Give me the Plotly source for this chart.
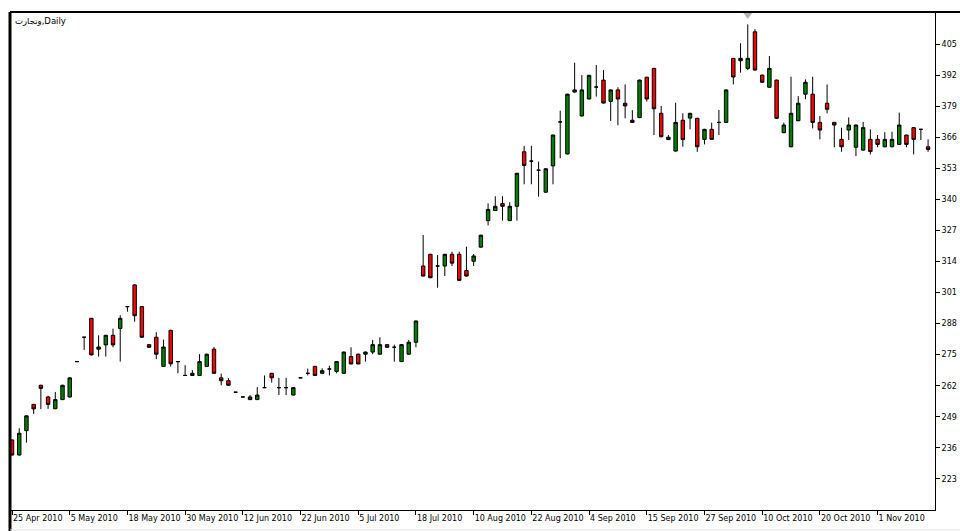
import plotly.graph_objects as go
import numpy as np

# OHLC, one entry per daily bar
opens = [239.3, 233.0, 243.2, 254.2, 262.2, 257.3, 252.4, 256.2, 257.3, 272.1,
         282.3, 290.2, 277.3, 279.1, 283.1, 286.0, 295.1, 304.2, 295.1, 279.2,
         282.3, 270.1, 285.2, 272.1, 266.3, 266.3, 266.3, 270.1, 277.3, 265.3,
         264.1, 259.3, 257.3, 256.2, 256.2, 261.2, 267.2, 261.2, 261.2, 258.1,
         265.3, 267.2, 270.1, 267.2, 269.0, 268.0, 267.2, 274.2, 275.2, 275.2,
         276.1, 275.2, 279.2, 278.1, 272.1, 275.2, 280.2, 312.1, 317.0, 312.1,
         312.1, 317.0, 317.0, 310.2, 314.1, 320.0, 331.1, 335.3, 338.3, 331.1,
         337.1, 359.9, 356.0, 352.2, 343.0, 354.0, 372.4, 359.0, 384.9, 374.9,
         382.0, 387.0, 389.9, 381.0, 385.8, 380.2, 373.1, 374.2, 391.1, 394.8,
         376.0, 365.0, 360.2, 373.1, 374.0, 373.9, 365.1, 369.3, 372.2, 372.2,
         399.0, 398.0, 394.8, 410.1, 392.0, 386.9, 389.9, 367.9, 362.0, 372.9,
         384.0, 384.0, 372.2, 380.2, 372.2, 365.1, 369.0, 361.8, 360.6, 365.1,
         365.1, 362.0, 362.0, 363.0, 366.9, 370.0, 369.3, 362.0]
highs = [239.5, 244.2, 249.6, 254.4, 262.4, 257.8, 259.4, 262.4, 265.5, 272.1,
         282.3, 290.4, 283.1, 283.3, 285.9, 291.5, 295.1, 304.4, 295.3, 279.4,
         284.4, 281.3, 285.4, 272.1, 270.6, 268.6, 275.2, 275.4, 278.2, 267.1,
         265.2, 259.3, 257.3, 258.1, 261.4, 266.3, 267.4, 265.3, 265.3, 261.4,
         265.3, 269.2, 270.3, 269.3, 270.4, 272.3, 276.3, 278.1, 275.4, 276.3,
         281.2, 282.3, 279.4, 279.2, 279.4, 281.2, 289.3, 325.1, 317.2, 316.7,
         317.2, 318.1, 318.1, 320.2, 317.1, 325.2, 338.3, 341.3, 341.3, 338.8,
         351.1, 362.4, 362.4, 355.8, 353.0, 367.1, 377.1, 384.2, 397.2, 392.0,
         392.1, 396.2, 394.1, 386.0, 386.9, 388.1, 377.3, 390.1, 391.3, 395.0,
         379.1, 366.9, 380.4, 376.0, 376.2, 374.1, 369.5, 372.1, 377.4, 386.0,
         399.2, 405.3, 413.2, 411.2, 392.2, 400.0, 390.1, 372.1, 391.3, 383.2,
         390.2, 391.3, 374.9, 388.1, 372.4, 370.0, 374.3, 371.3, 372.4, 369.3,
         366.9, 368.1, 368.3, 376.3, 367.1, 370.2, 369.3, 365.1]
lows = [232.8, 232.8, 238.2, 250.2, 252.2, 252.3, 252.2, 256.0, 257.1, 272.1,
        277.0, 274.7, 274.2, 274.2, 278.1, 272.1, 293.0, 288.8, 282.0, 277.9,
        273.1, 270.0, 270.0, 267.2, 266.3, 266.2, 266.2, 270.0, 267.0, 262.2,
        262.0, 259.3, 257.3, 256.0, 256.0, 261.2, 263.3, 258.1, 258.1, 258.0,
        265.3, 266.3, 266.1, 267.0, 266.3, 267.2, 267.0, 271.0, 271.0, 272.1,
        275.2, 275.0, 277.9, 272.1, 272.0, 275.0, 278.1, 307.7, 307.0, 303.0,
        307.9, 312.1, 306.0, 307.7, 312.1, 319.8, 329.1, 335.1, 331.1, 331.0,
        331.1, 346.3, 346.3, 341.1, 342.8, 346.3, 357.2, 358.8, 384.7, 374.7,
        381.8, 383.0, 380.1, 372.8, 371.0, 373.9, 372.0, 374.0, 380.9, 366.9,
        366.0, 364.8, 360.0, 362.0, 369.3, 359.9, 363.0, 365.0, 366.9, 372.0,
        388.1, 393.0, 394.1, 393.9, 388.8, 386.7, 373.7, 367.7, 361.8, 372.7,
        381.9, 369.7, 365.1, 376.0, 361.8, 359.9, 364.8, 358.1, 360.4, 358.8,
        361.8, 361.8, 361.8, 362.8, 361.8, 358.8, 364.8, 359.9]
closes = [233.0, 242.1, 249.4, 252.3, 260.9, 254.2, 256.2, 262.2, 265.3, 272.1,
          282.3, 274.9, 278.2, 283.1, 279.1, 290.2, 295.1, 291.3, 282.3, 278.1,
          275.2, 278.2, 271.2, 272.1, 266.3, 267.2, 272.1, 275.2, 267.2, 264.1,
          262.2, 259.3, 257.3, 257.3, 258.1, 261.2, 265.3, 261.2, 261.2, 261.2,
          265.3, 267.2, 266.3, 268.3, 269.0, 272.1, 276.1, 271.1, 271.1, 276.1,
          279.2, 279.2, 278.1, 278.1, 279.2, 280.2, 289.1, 307.9, 307.2, 312.1,
          317.0, 313.3, 306.1, 307.9, 316.3, 325.0, 335.8, 337.1, 337.1, 337.1,
          350.9, 354.2, 356.0, 352.2, 352.8, 366.9, 372.4, 384.0, 385.8, 385.8,
          391.9, 387.0, 380.3, 385.8, 382.0, 379.1, 372.2, 389.9, 382.0, 377.9,
          366.2, 366.0, 372.2, 365.0, 376.0, 362.0, 369.3, 365.1, 372.2, 385.8,
          391.2, 399.0, 399.0, 394.1, 389.0, 394.8, 373.9, 371.1, 376.0, 380.2,
          389.0, 372.2, 369.0, 377.7, 371.1, 362.0, 371.1, 371.1, 370.0, 360.0,
          363.0, 365.1, 365.1, 371.1, 363.0, 365.1, 369.3, 360.9]

date_labels = ["25 Apr 2010", "5 May 2010", "18 May 2010", "30 May 2010",
               "12 Jun 2010", "22 Jun 2010", "5 Jul 2010", "18 Jul 2010",
               "10 Aug 2010", "22 Aug 2010", "4 Sep 2010", "15 Sep 2010",
               "27 Sep 2010", "10 Oct 2010", "20 Oct 2010", "1 Nov 2010"]
label_step = 8
price_ticks = list(range(223, 406, 13))
title_text = "وتجارت,Daily"

bars = list(range(len(opens)))
tick_pos = [i * label_step for i in range(len(date_labels))]

fig = go.Figure()
fig.add_trace(go.Candlestick(
    x=bars, open=opens, high=highs, low=lows, close=closes,
    increasing=dict(fillcolor="#008000", line=dict(color="black", width=1)),
    decreasing=dict(fillcolor="#ff0000", line=dict(color="black", width=1)),
    whiskerwidth=0, showlegend=False, hoverinfo="x+y",
))

font_axis = dict(family="DejaVu Sans", size=8, color="black")

fig.update_layout(
    width=960, height=531,
    margin=dict(l=10, r=25, t=12, b=21, autoexpand=False),
    paper_bgcolor="white", plot_bgcolor="white",
    boxgap=0.32,
    showlegend=False,
    xaxis=dict(
        range=[-0.28, 127.96], tickvals=tick_pos, ticktext=date_labels,
        ticks="outside", ticklen=4, tickcolor="black", tickwidth=1,
        showline=True, linecolor="black", linewidth=1,
        showgrid=False, zeroline=False, rangeslider=dict(visible=False),
        ticklabelposition="outside right", tickfont=font_axis,
        tickangle=0, automargin=False, fixedrange=True,
    ),
    yaxis=dict(
        side="right", range=[210.0, 418.4], tickvals=price_ticks,
        ticks="outside", ticklen=4, tickcolor="black", tickwidth=1,
        showline=True, linecolor="black", linewidth=1,
        showgrid=False, zeroline=False, tickfont=font_axis,
        automargin=False, fixedrange=True,
    ),
    annotations=[dict(
        text=title_text, x=0, y=1, xref="paper", yref="paper",
        xanchor="left", yanchor="top", xshift=3, yshift=-2, showarrow=False,
        font=dict(family="DejaVu Sans", size=8.5, color="black"),
    )],
)

# frame lines
fig.add_shape(type="line", xref="paper", yref="paper", x0=0, x1=0, y0=-0.05, y1=1.0,
              line=dict(color="black", width=3))
fig.add_shape(type="line", xref="paper", yref="paper", x0=0, x1=1.03, y0=1, y1=1,
              line=dict(color="black", width=2))
fig.add_shape(type="line", xref="paper", yref="paper", x0=0, x1=1.03, y0=-0.04, y1=-0.04,
              line=dict(color="#e4e4e4", width=1))

# small grey marker above the highest bar
hi_idx = int(np.argmax(highs))
fig.add_shape(type="path", xref="x", yref="paper",
              path=f"M {hi_idx-0.6},{1-1/498} L {hi_idx+0.6},{1-1/498} L {hi_idx},{1-7/498} Z",
              fillcolor="#b4b4b4", line=dict(color="#b4b4b4", width=0))

fig.write_html(
    "out.html",
    config={"displayModeBar": False},
    post_script="document.body.style.margin='0px';document.body.style.overflow='hidden';",
)
